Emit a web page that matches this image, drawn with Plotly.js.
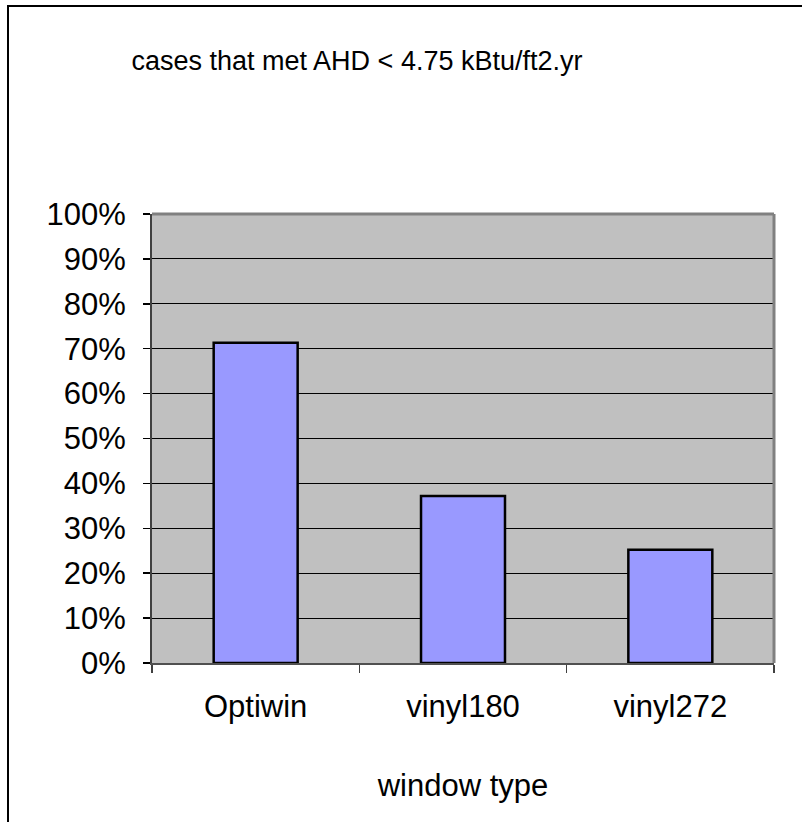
<!DOCTYPE html>
<html>
<head>
<meta charset="utf-8">
<script src="https://cdn.plot.ly/plotly-3.0.1.min.js"></script>
<style>
  html, body { margin: 0; padding: 0; background: #ffffff; overflow: hidden; }
  #frame { position: absolute; left: 7px; top: 5px; width: 900px; height: 900px;
           border-left: 2px solid #000; border-top: 2px solid #000; pointer-events: none; z-index: 5; }
  #chart { position: absolute; left: 0; top: 0; width: 802px; height: 822px; }
</style>
</head>
<body>
<div id="chart"></div>
<div id="frame"></div>
<script>
const categories = ["Optiwin", "vinyl180", "vinyl272"];
const shareMet = [0.713, 0.372, 0.252];
const yTickVals = [0, 0.1, 0.2, 0.3, 0.4, 0.5, 0.6, 0.7, 0.8, 0.9, 1.0];
const yTickText = ["0%", "10%", "20%", "30%", "40%", "50%", "60%", "70%", "80%", "90%", "100%"];
const chartTitle = "cases that met AHD < 4.75 kBtu/ft2.yr";
const xTitle = "window type";

const font = "Arial, 'Liberation Sans', sans-serif";

Plotly.newPlot("chart", [{
  type: "bar",
  x: categories,
  y: shareMet,
  marker: { color: "#9999ff", line: { color: "#000000", width: 2.5 } },
  hoverinfo: "none"
}], {
  width: 802,
  height: 822,
  margin: { l: 152, r: 28, t: 214, b: 159 },
  paper_bgcolor: "#ffffff",
  plot_bgcolor: "#c0c0c0",
  bargap: 0.595,
  showlegend: false,
  title: {
    text: chartTitle,
    font: { family: font, size: 27, color: "#000" },
    x: 357 / 802, xanchor: "center", xref: "container",
    y: 1 - 61 / 822, yanchor: "middle", yref: "container"
  },
  xaxis: {
    type: "category",
    tickson: "boundaries",
    ticks: "outside",
    ticklen: 8,
    tickcolor: "#404040",
    tickwidth: 1.5,
    ticklabelstandoff: 15,
    tickfont: { family: font, size: 31, color: "#000" },
    showline: true,
    linecolor: "#505050",
    linewidth: 2,
    showgrid: false,
    title: { text: xTitle, font: { family: font, size: 31, color: "#000" }, standoff: 51 }
  },
  yaxis: {
    range: [0, 1],
    tickvals: yTickVals,
    ticktext: yTickText,
    ticks: "outside",
    ticklen: 7,
    tickcolor: "#000",
    tickwidth: 1.5,
    ticklabelstandoff: 11,
    tickfont: { family: font, size: 31, color: "#000" },
    showline: true,
    linecolor: "#404040",
    linewidth: 2,
    showgrid: true,
    gridcolor: "#000000",
    gridwidth: 1,
    zeroline: false
  },
  shapes: [
    { type: "line", xref: "paper", yref: "paper", x0: 0, x1: 1, y0: 1, y1: 1,
      line: { color: "#808080", width: 3 } },
    { type: "line", xref: "paper", yref: "paper", x0: 1, x1: 1, y0: 0, y1: 1,
      line: { color: "#808080", width: 3 } }
  ]
}, { displayModeBar: false, staticPlot: true });
</script>
</body>
</html>
